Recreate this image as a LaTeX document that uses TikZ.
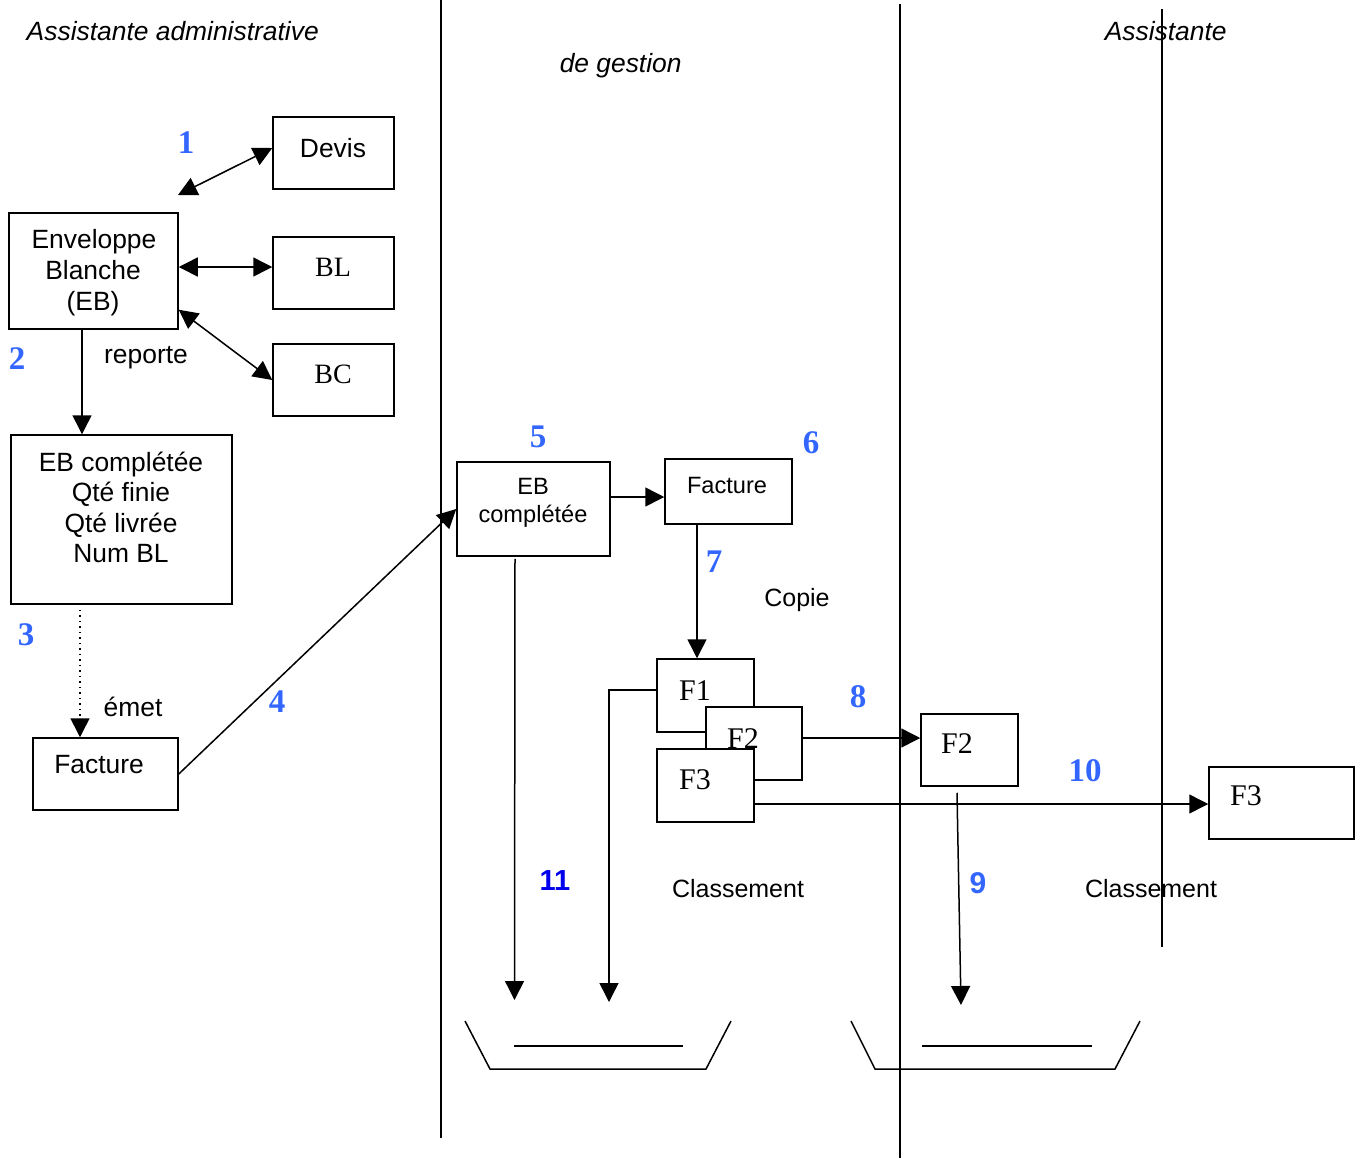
\documentclass[tikz,border=0pt]{standalone}
\usepackage{fontspec}
\setmainfont{Liberation Serif}
\setsansfont{Liberation Sans}
\usetikzlibrary{arrows.meta,fit}
\definecolor{numblue}{HTML}{3366FF}
\definecolor{deepblue}{HTML}{0000EE}
\begin{document}
\begin{tikzpicture}[x=0.5pt,y=-0.5pt,line width=0.75pt,
  box/.style={draw,inner sep=0pt,line width=0.75pt},
  wbox/.style={box,fill=white},
  lt/.style={font=\sffamily\fontsize{13.2}{15.5}\selectfont,inner sep=0pt,anchor=base},
  mt/.style={font=\sffamily\fontsize{11.8}{14}\selectfont,inner sep=0pt,anchor=base},
  ct/.style={font=\sffamily\fontsize{12.5}{15}\selectfont,inner sep=0pt,anchor=base},
  it/.style={font=\sffamily\itshape\fontsize{13.2}{15}\selectfont,inner sep=0pt,anchor=base west},
  sr/.style={font=\fontsize{14}{16}\selectfont,inner sep=0pt,anchor=base},
  fr/.style={font=\fontsize{15}{17}\selectfont,inner sep=0pt,anchor=base},
  num/.style={font=\bfseries\fontsize{16.5}{18}\selectfont,text=numblue,inner sep=0pt,anchor=base},
  numsf/.style={font=\sffamily\bfseries\fontsize{15}{18}\selectfont,text=numblue,inner sep=0pt,anchor=base},
  arr/.style={-{Triangle[length=9.5pt,width=9.5pt]}},
  darr/.style={{Triangle[length=9.5pt,width=9.5pt]}-{Triangle[length=9.5pt,width=9.5pt]}},
  lane/.style={line width=0.75pt}]
\useasboundingbox (0,0) rectangle (1361,1158);

% swimlane separators
\draw[lane] (441,0) -- (441,1138);
\draw[lane] (900,4) -- (900,1158);
\draw[lane] (1162,9) -- (1162,947);

% titles
\node[it] (t1) at (26,40) {Assistante administrative};
\node[it] (t2) at (559,72) {de gestion};
\node[it] (t3) at (1104,40) {Assistante};

% left lane boxes
\node[box,fit={(273,117) (394,189)}] (devis) {};
\node[box,fit={(273,237) (394,309)}] (bl) {};
\node[box,fit={(273,344) (394,416)}] (bc) {};
\node[box,fit={(9,213) (178,329)}] (eb) {};
\node[box,fit={(11,435) (232,604)}] (ebc) {};
\node[box,fit={(33,738) (178,810)}] (fact1) {};

\node[lt] (tdevis) at (333,157) {Devis};
\node[sr] (tbl) at (333,276) {BL};
\node[sr] (tbc) at (333,383) {BC};
\node[lt] (teb1) at (94,248) {Enveloppe};
\node[lt] (teb2) at (93,279) {Blanche};
\node[lt] (teb3) at (93,310) {(EB)};
\node[lt] (tebc1) at (121,471) {EB complétée};
\node[lt] (tebc2) at (121,501.5) {Qté finie};
\node[lt] (tebc3) at (121,532) {Qté livrée};
\node[lt] (tebc4) at (121,562.5) {Num BL};
\node[lt] (tfact1) at (99,773) {Facture};

\node[num] (n1) at (186,153) {1};
\node[num] (n2) at (17,369) {2};
\node[lt] (trep) at (146,363) {reporte};
\node[num] (n3) at (26,645) {3};
\node[lt] (temet) at (133,716) {émet};
\node[num] (n4) at (277,712) {4};

% left lane connectors
\coordinate (c1) at (178,195);
\draw[darr] (c1) -- ([yshift=2.5pt]devis.west);
\draw[darr] ([yshift=2pt]eb.east) -- ([yshift=3pt]bl.west);
\draw[darr] ([yshift=10pt]eb.south east) -- (bc.west);
\draw[arr] ([xshift=-5.75pt]eb.south) -- ([xshift=-19.75pt]ebc.north);
\draw[arr,dotted] ([xshift=-20.75pt,yshift=-2.5pt]ebc.south) -- ([xshift=-12.75pt]fact1.north);

% middle lane boxes
\node[box,fit={(457,462) (610,556)}] (eb2) {};
\node[box,fit={(665,459) (792,524)}] (fact2) {};
\node[wbox,fit={(657,659) (754,732)}] (f1) {};
\node[fr] (tf1) at (695,700) {F1};
\node[wbox,fit={(706,707) (802,780)}] (f2) {};
\node[fr] (tf2) at (743,748) {F2};
\node[wbox,fit={(657,749) (754,822)}] (f3) {};
\node[fr] (tf3) at (695,789) {F3};

\node[mt] (teb2a) at (533,494) {EB};
\node[mt] (teb2b) at (533,522) {complétée};
\node[mt] (tfact2) at (727,493) {Facture};
\node[num] (n5) at (538,447) {5};
\node[num] (n6) at (811,453) {6};
\node[num] (n7) at (714,572) {7};
\node[ct] (tcopie) at (797,606) {Copie};
\node[num] (n8) at (858,707) {8};
\node[font=\sffamily\bfseries\fontsize{14.5}{17}\selectfont,text=deepblue,inner sep=0pt,anchor=base] (n11) at (555,890) {11};
\node[ct] (tcl1) at (738,897) {Classement};

\draw[arr] (fact1.east) -- (eb2.west);
\draw[arr] ([yshift=6pt]eb2.east) -- ([yshift=-2.75pt]fact2.west);
\draw[arr] ([xshift=-15.75pt]fact2.south) -- ([xshift=-4.25pt]f1.north);

% right boxes
\node[box,fit={(921,714) (1018,786)}] (f2r) {};
\node[fr] (tf2r) at (957,753) {F2};
\node[box,fit={(1209,767) (1354,839)}] (f3r) {};
\node[fr] (tf3r) at (1246,805) {F3};
\node[num] (n10) at (1085,781) {10};
\node[numsf] (n9) at (978,893) {9};
\node[ct] (tcl2) at (1151,897) {Classement};

\draw[arr] ([yshift=2.75pt]f2.east) -- ([yshift=6pt]f2r.west);
\draw[arr] ([yshift=-9.25pt]f3.east) -- ([yshift=-0.5pt]f3r.west);

% trays
\coordinate (t1a) at (514.5,1000);
\coordinate (t1b) at (609,1002);
\coordinate (t2a) at (961,1005);
\draw[arr] ([xshift=-9.25pt,yshift=-1pt]eb2.south) -- (t1a);
\draw[arr] ([yshift=2.75pt]f1.west) -| (t1b);
\draw[arr] ([xshift=-6.25pt,yshift=-3pt]f2r.south) -- (t2a);

\draw (465,1021) -- (490,1069) -- (706,1069) -- (731,1021);
\draw (514,1046) -- (683,1046);
\draw (851,1021) -- (875,1069) -- (1115,1069) -- (1140,1021);
\draw (922,1046) -- (1092,1046);
\end{tikzpicture}
\end{document}
